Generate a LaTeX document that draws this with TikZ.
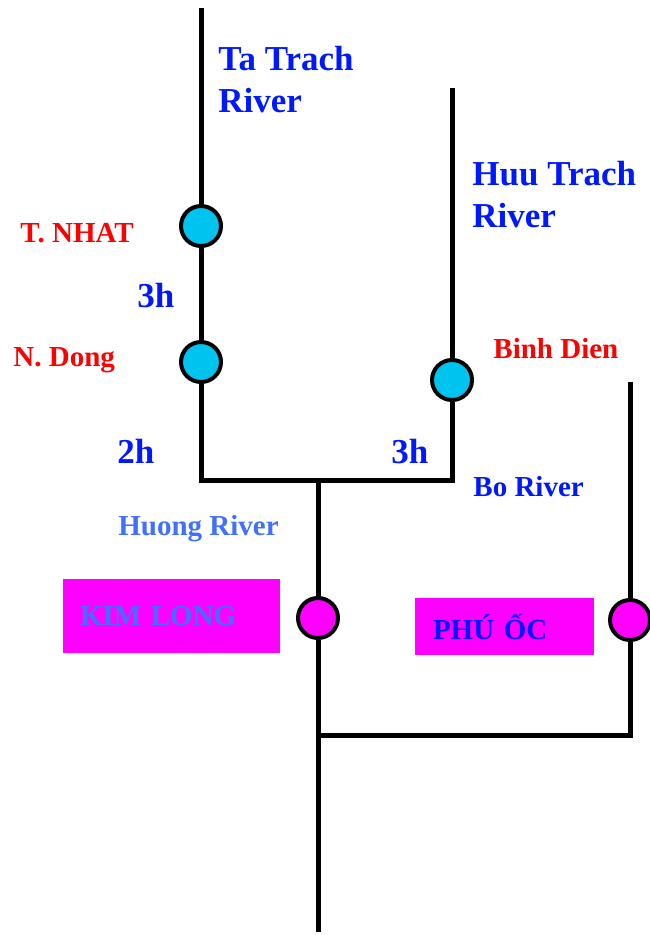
\documentclass[tikz,border=0pt]{standalone}
\usepackage{fontspec}
\setmainfont{Liberation Serif}
\usetikzlibrary{positioning}

\definecolor{rivblue}{RGB}{0,24,255}
\definecolor{hlblue}{RGB}{64,112,255}
\definecolor{stred}{RGB}{255,0,0}
\definecolor{gcyan}{RGB}{0,196,240}
\definecolor{gmag}{RGB}{255,0,255}

\tikzset{
  river/.style={line width=2.5pt},
  gauge/.style={circle,draw,line width=2pt,fill=#1,minimum size=20pt,inner sep=0pt},
  bigl/.style={font=\fontsize{17.5}{21}\selectfont\bfseries,text=rivblue,inner sep=0pt,align=left},
  smalll/.style={font=\fontsize{14.5}{17}\selectfont\bfseries,inner sep=0pt},
  plate/.style={fill=gmag,font=\fontsize{14.5}{17}\selectfont\bfseries,align=left}
}

\begin{document}
\begin{tikzpicture}[x=0.5pt,y=-0.5pt] % 1 px = 0.5 pt, y vers le bas
\useasboundingbox (0,0) rectangle (649,935);

% --------- PARAMÈTRES ----------
\def\xta{201}    % Ta Trach
\def\xhu{452}    % Huu Trach
\def\xmain{318}  % Huong
\def\xbo{630}    % Bo
\def\yjone{480}  % confluence 1
\def\yjtwo{735}  % confluence 2
% --------------------------------

% Extrémités et confluences
\coordinate (tatop) at (\xta,8);
\coordinate (hutop) at (\xhu,88);
\coordinate (jl) at (\xta,\yjone);
\coordinate (jr) at (\xhu,\yjone);
\coordinate (jm) at (\xmain,\yjone);
\coordinate (bottom) at (\xmain,932);
\coordinate (botop) at (\xbo,382);
\coordinate (jbo) at (\xbo,\yjtwo);
\coordinate (jmain) at (\xmain,\yjtwo);

% Stations
\node[gauge=gcyan] (nhat) at (\xta,226) {};
\node[gauge=gcyan] (dong) at (\xta,362) {};
\node[gauge=gcyan] (binh) at (\xhu,380) {};
\node[gauge=gmag] (kim) at (\xmain,618) {};
\node[gauge=gmag] (phu) at (\xbo,620) {};

% Rivières
\draw[river] (tatop) -- (nhat) -- (dong) -- (jl) -- (jr) -- (binh) -- (hutop);
\draw[river] (jm) -- (kim) -- (bottom);
\draw[river] (botop) -- (phu) -- (jbo) -- (jmain);

% Noms des rivières
\node[bigl,anchor=north west] (tatxt) at (218,46) {Ta Trach\\River};
\node[bigl,anchor=north west] (hutxt) at (472,161) {Huu Trach\\River};
\node[smalll,text=rivblue,anchor=base west] (botxt) at (473,496) {Bo River};
\node[smalll,text=hlblue,anchor=base west] (hgtxt) at (118,535) {Huong River};

% Noms des stations
\node[smalll,text=stred,anchor=base west] (nhattxt) at (20,243) {T. NHAT};
\node[smalll,text=stred,anchor=base west] (dongtxt) at (13,366) {N. Dong};
\node[smalll,text=stred,anchor=base west] (binhtxt) at (493,358) {Binh Dien};

% Temps de propagation
\node[bigl,anchor=base west] (tone) at (137,307) {3h};
\node[bigl,anchor=base west] (ttwo) at (117,463) {2h};
\node[bigl,anchor=base west] (tthree) at (391,463) {3h};

% Cartouches
\node[plate,text=hlblue,minimum width=108.5pt,minimum height=37pt,
      text width=91.5pt,inner xsep=8.5pt] (kimbox) at (171.5,616) {KIM LONG};
\node[plate,text=rivblue,minimum width=89.5pt,minimum height=28.5pt,
      text width=71.5pt,inner xsep=9pt] (phubox) at (504.5,626.5) {PHÚ ỐC};

\end{tikzpicture}
\end{document}
